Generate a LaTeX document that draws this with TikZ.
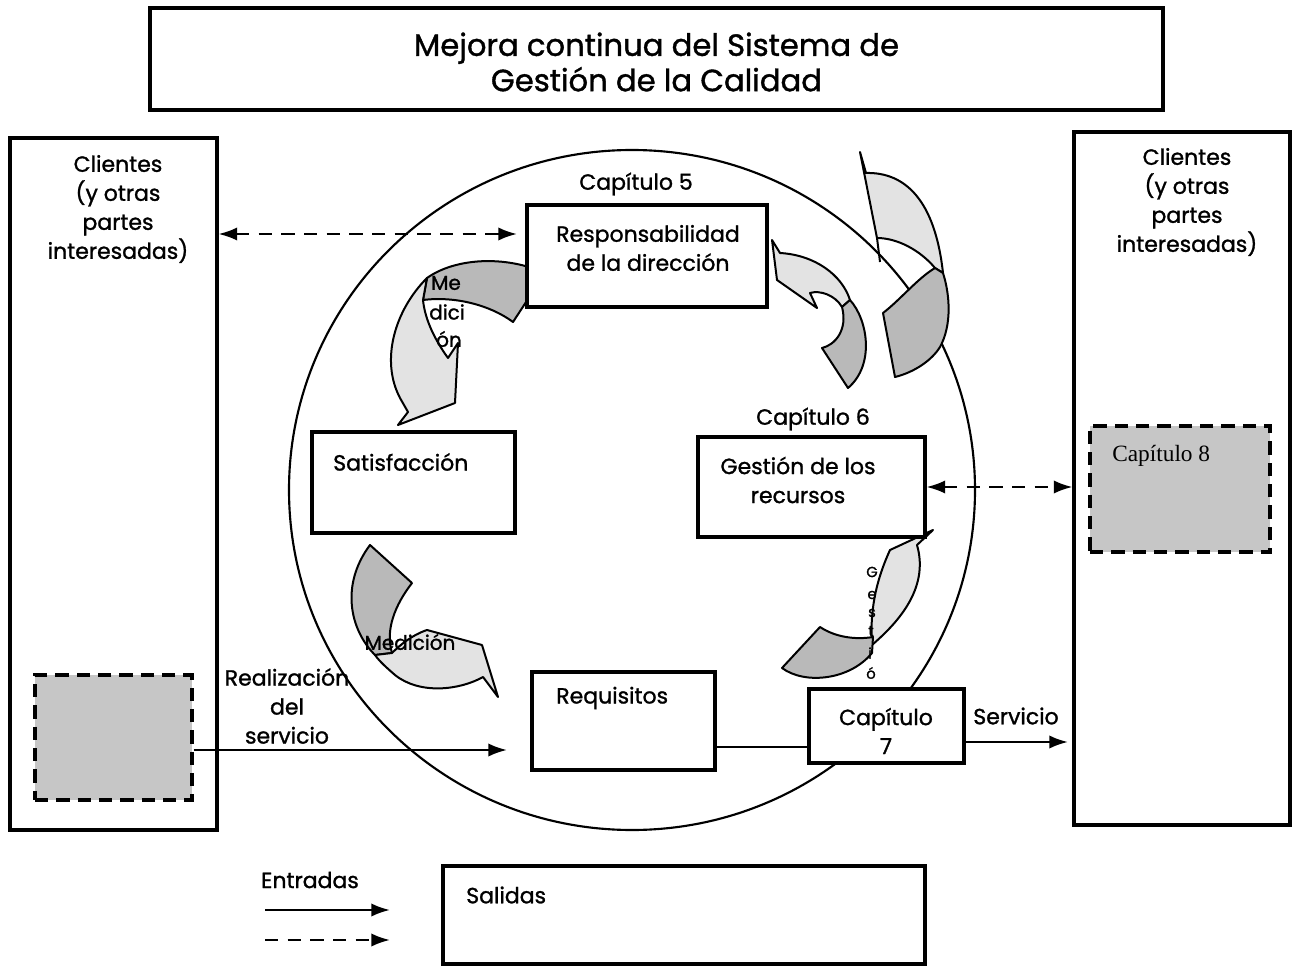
\documentclass[tikz,border=0pt]{standalone}
\usepackage{fontspec}
\setmainfont{Poppins}[FakeBold=1.2]
\newfontfamily\serifcap{Liberation Serif}
\usetikzlibrary{arrows.meta,shapes.geometric}
\begin{document}
\begin{tikzpicture}[x=0.75pt,y=-0.75pt,
  box/.style={draw, line width=2.3pt, fill=white, inner sep=0pt},
  dbox/.style={draw, line width=2.5pt, dash pattern=on 10pt off 6pt, fill=gray!45, inner sep=0pt},
  lbl/.style={font=\fontsize{16.5}{21.75}\selectfont, inner sep=0pt, align=center},
  small/.style={font=\fontsize{15}{17}\selectfont, inner sep=0pt},
  vtxt/.style={font=\fontsize{11}{12}\selectfont, inner sep=0pt},
  tipA/.tip={Latex[length=14pt,width=10pt]},
  conn/.style={line width=1.8pt, -tipA},
  dconn/.style={line width=1.8pt, dash pattern=on 10pt off 7pt},
  dtip/.style={tipA-tipA},
  lightp/.style={draw, line width=1.5pt, fill=gray!22, line join=round},
  darkp/.style={draw, line width=1.5pt, fill=gray!55, line join=round},
]
\useasboundingbox (0,0) rectangle (1300,966);

% title
\node[box, minimum width=759.75pt, minimum height=76.5pt] (title) at (656.5,59) {};
\node[font=\fontsize{23}{26.5}\selectfont, align=center, inner sep=0pt] (titletxt) at (656.5,62)
  {Mejora continua del Sistema de\\Gestión de la Calidad};

% side boxes
\node[box, minimum width=155.25pt, minimum height=519pt] (lbox) at (113.5,484) {};
\node[box, minimum width=162pt, minimum height=519.75pt] (rbox) at (1182,478.5) {};
\node[lbl] (ltxt) at (118,209) {Clientes\\(y otras\\partes\\interesadas)};
\node[lbl] (rtxt) at (1187,202) {Clientes\\(y otras\\partes\\interesadas)};
\node[dbox, minimum width=117.75pt, minimum height=93.75pt] (lgray) at (113.5,737.5) {};
\node[dbox, minimum width=135pt, minimum height=94.5pt] (cap8) at (1180,489) {};
\node[font=\serifcap\fontsize{17.5}{20}\selectfont, anchor=west, inner sep=0pt] (cap8txt) at (1112,456) {Capítulo 8};

% circle
\node[draw, line width=1.6pt, ellipse, minimum width=514.5pt, minimum height=510pt, inner sep=0pt] (circ) at (632,490) {};

% curved arrows
% arrow 1 (top-left)
\path[darkp] (545,273) .. controls (505,255) and (455,258) .. (427,278) -- (423,300)
  .. controls (455,296) and (490,305) .. (513,322) -- cycle;
\path[lightp] (427,278) .. controls (395,310) and (380,360) .. (400,398) -- (408,412) -- (398,425)
  -- (455,403) -- (458,343) -- (448,358) .. controls (435,340) and (425,320) .. (423,300) -- cycle;
% arrow 2 (bottom-left)
\path[darkp] (370,545) -- (412,583) .. controls (395,605) and (385,630) .. (392,653) -- (375,655)
  .. controls (350,630) and (340,585) .. (370,545) -- cycle;
\path[lightp] (375,655) -- (392,653) .. controls (400,645) and (412,635) .. (427,630) -- (482,645)
  -- (498,697) -- (483,677) .. controls (460,690) and (420,695) .. (395,675)
  .. controls (387,668) and (380,662) .. (375,655) -- cycle;
% arrow 3 (top middle-right)
\path[lightp] (772,240) -- (780,253) .. controls (815,255) and (842,275) .. (850,300) -- (842,307)
  .. controls (835,295) and (820,290) .. (810,293) -- (817,308) -- (777,280) -- cycle;
\path[darkp] (850,300) .. controls (868,320) and (875,365) .. (848,388) -- (822,348)
  .. controls (835,345) and (848,330) .. (842,307) -- cycle;
% arrow 4 (top right, large)
\path[lightp] (860,152) -- (866,173) .. controls (905,172) and (935,200) .. (943,273) -- (935,268)
  .. controls (920,250) and (897,238) .. (877,238) -- cycle;
\draw[line width=1.5pt] (877,238) -- (880,262);
\path[darkp] (935,268) .. controls (918,278) and (900,300) .. (883,313) -- (895,377)
  .. controls (915,372) and (932,360) .. (940,347) .. controls (952,325) and (950,295) .. (943,273) -- cycle;
% arrow 5 (bottom right)
\path[lightp] (933,530) -- (890,550) .. controls (874,585) and (870,615) .. (872,645)
  .. controls (895,625) and (930,590) .. (917,545) -- cycle;
\path[darkp] (873,637) .. controls (855,640) and (835,637) .. (820,627) -- (782,668)
  .. controls (805,685) and (850,680) .. (872,653) -- cycle;

% arrow texts
\node[small] (me1) at (446,283) {Me};
\node[small] (me2) at (447,312) {dici};
\node[small] (me3) at (449,339) {ón};
\node[small] (med2) at (410,642) {Medición};
\node[vtxt] (g1) at (872,572) {G};
\node[vtxt] (g2) at (872,595) {e};
\node[vtxt] (g3) at (872,613) {s};
\node[vtxt] (g4) at (871,631) {t};
\node[vtxt] (g5) at (870,653) {i};
\node[vtxt] (g6) at (871,673) {ó};

% inner boxes
\node[box, minimum width=180pt, minimum height=76.5pt] (resp) at (647,256) {};
\node[lbl] (resptxt) at (648,248) {Responsabilidad\\de la dirección};
\node[lbl] (cap5) at (636,184) {Capítulo 5};
\node[box, minimum width=152.25pt, minimum height=75.75pt] (sat) at (413.5,482.5) {};
\node[lbl, anchor=west] (sattxt) at (333,462) {Satisfacción};
\node[lbl] (cap6) at (813,419) {Capítulo 6};
\node[box, minimum width=170.25pt, minimum height=75pt] (gest) at (811.5,487) {};
\node[lbl] (gesttxt) at (798,480) {Gestión de los\\recursos};
\node[box, minimum width=137.25pt, minimum height=73.5pt] (req) at (623.5,721) {};
\node[lbl, anchor=west] (reqtxt) at (556,698) {Requisitos};
\node[box, minimum width=116.25pt, minimum height=55.5pt] (cap7) at (886.5,726) {};
\node[lbl] (cap7txt) at (886,731) {Capítulo\\7};

% connectors
\coordinate (c1) at (517,234);
\draw[dconn, dtip] (lbox.east |- c1) -- (c1);
\draw[dconn, dtip] (gest.east) -- (gest.east -| rbox.west);
\coordinate (c2) at (507,750);
\draw[conn] (lgray.east |- c2) -- (c2);
\node[lbl] (realtxt) at (287,706) {Realización\\del\\servicio};
\coordinate (c3) at (0,747);
\draw[line width=1.6pt] (req.east |- c3) -- (cap7.west |- c3);
\coordinate (c4) at (1068,742);
\draw[conn] (cap7.east |- c4) -- (c4);
\node[lbl] (servtxt) at (1016,716) {Servicio};

% legend
\node[lbl] (entr) at (310,880) {Entradas};
\coordinate (l1a) at (265,910);
\coordinate (l1b) at (390,910);
\coordinate (l2a) at (265,940);
\coordinate (l2b) at (390,940);
\draw[conn] (l1a) -- (l1b);
\draw[dconn, -tipA] (l2a) -- (l2b);
\node[box, minimum width=361.5pt, minimum height=73.5pt] (sal) at (684,915) {};
\node[lbl, anchor=west] (saltxt) at (466,895) {Salidas};
\end{tikzpicture}
\end{document}
